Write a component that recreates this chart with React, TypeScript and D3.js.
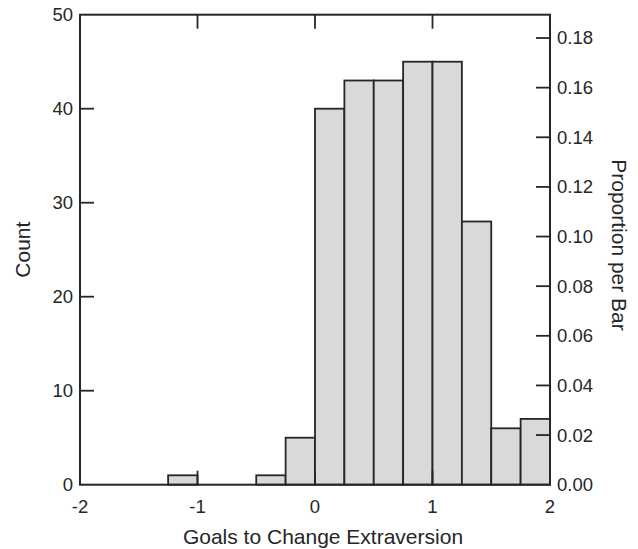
import * as d3 from "d3";
import { useEffect, useRef } from "react";

// histogram bins (left edges) and counts
const binStarts = [-2, -1.75, -1.5, -1.25, -1, -0.75, -0.5, -0.25, 0, 0.25, 0.5, 0.75, 1, 1.25, 1.5, 1.75];
const counts = [0, 0, 0, 1, 0, 0, 1, 5, 40, 43, 43, 45, 45, 28, 6, 7];
const binWidth = 0.25;

const xTicks = [-2, -1, 0, 1, 2];
const countTicks = [0, 10, 20, 30, 40, 50];
const propTicks = [0, 0.02, 0.04, 0.06, 0.08, 0.1, 0.12, 0.14, 0.16, 0.18];

const xTitle = "Goals to Change Extraversion";
const yTitle = "Count";
const y2Title = "Proportion per Bar";

export default function App() {
	const ref = useRef<SVGSVGElement>(null);

	useEffect(() => {
		const svg = d3.select(ref.current);
		svg.selectAll("*").remove();

		const left = 80, right = 550, top = 14.7, bottom = 484.7;
		const total = d3.sum(counts);
		const ink = "#262626";
		const font = "'Liberation Sans', Arial, sans-serif";

		const x = d3.scaleLinear().domain([-2, 2]).range([left, right]);
		const y = d3.scaleLinear().domain([0, 50]).range([bottom, top]);
		const y2 = d3.scaleLinear().domain([0, 50 / total]).range([bottom, top]);

		// bars
		svg.append("g")
			.selectAll("rect")
			.data(binStarts.map((s, i) => ({ s, c: counts[i] })).filter((d) => d.c > 0))
			.enter()
			.append("rect")
			.attr("x", (d) => x(d.s))
			.attr("y", (d) => y(d.c))
			.attr("width", (d) => x(d.s + binWidth) - x(d.s))
			.attr("height", (d) => y(0) - y(d.c))
			.attr("fill", "#d8d9db")
			.attr("stroke", ink)
			.attr("stroke-width", 1.8);

		const tickLen = 14;

		// inward ticks: bottom and top
		const inner = xTicks.slice(1, -1);
		svg.append("g").selectAll("line").data(inner).enter().append("line")
			.attr("x1", (d) => x(d)).attr("x2", (d) => x(d))
			.attr("y1", bottom).attr("y2", bottom - tickLen)
			.attr("stroke", ink).attr("stroke-width", 1.8);
		svg.append("g").selectAll("line").data(inner).enter().append("line")
			.attr("x1", (d) => x(d)).attr("x2", (d) => x(d))
			.attr("y1", top).attr("y2", top + tickLen)
			.attr("stroke", ink).attr("stroke-width", 1.8);

		// left ticks
		svg.append("g").selectAll("line").data(countTicks.slice(1, -1)).enter().append("line")
			.attr("x1", left).attr("x2", left + tickLen)
			.attr("y1", (d) => y(d)).attr("y2", (d) => y(d))
			.attr("stroke", ink).attr("stroke-width", 1.8);

		// right ticks
		svg.append("g").selectAll("line").data(propTicks.slice(1)).enter().append("line")
			.attr("x1", right).attr("x2", right - tickLen)
			.attr("y1", (d) => y2(d)).attr("y2", (d) => y2(d))
			.attr("stroke", ink).attr("stroke-width", 1.8);

		// frame
		svg.append("rect")
			.attr("x", left).attr("y", top)
			.attr("width", right - left).attr("height", bottom - top)
			.attr("fill", "none").attr("stroke", ink).attr("stroke-width", 2);

		const labelSize = 18.5;

		svg.append("g").selectAll("text").data(xTicks).enter().append("text")
			.attr("x", (d) => x(d))
			.attr("y", bottom + 28)
			.attr("text-anchor", "middle")
			.attr("font-family", font).attr("font-size", labelSize).attr("fill", ink)
			.text((d) => d);

		svg.append("g").selectAll("text").data(countTicks).enter().append("text")
			.attr("x", left - 7)
			.attr("y", (d) => y(d))
			.attr("dy", "0.35em")
			.attr("text-anchor", "end")
			.attr("font-family", font).attr("font-size", labelSize).attr("fill", ink)
			.text((d) => d);

		svg.append("g").selectAll("text").data(propTicks).enter().append("text")
			.attr("x", right + 7)
			.attr("y", (d) => y2(d))
			.attr("dy", "0.35em")
			.attr("text-anchor", "start")
			.attr("font-family", font).attr("font-size", labelSize).attr("fill", ink)
			.text((d) => d3.format(".2f")(d));

		const titleSize = 21;

		svg.append("text")
			.attr("x", 323).attr("y", 544)
			.attr("text-anchor", "middle")
			.attr("font-family", font).attr("font-size", titleSize).attr("fill", ink)
			.text(xTitle);

		svg.append("text")
			.attr("transform", "translate(30," + (top + bottom) / 2 + ") rotate(-90)")
			.attr("text-anchor", "middle")
			.attr("font-family", font).attr("font-size", titleSize).attr("fill", ink)
			.text(yTitle);

		svg.append("text")
			.attr("transform", "translate(612,245) rotate(90)")
			.attr("text-anchor", "middle")
			.attr("font-family", font).attr("font-size", titleSize).attr("fill", ink)
			.text(y2Title);
	}, []);

	return (
		<svg
			ref={ref}
			width={638}
			height={549}
			style={{ position: "absolute", left: 0, top: 0, background: "#fff" }}
		/>
	);
}
